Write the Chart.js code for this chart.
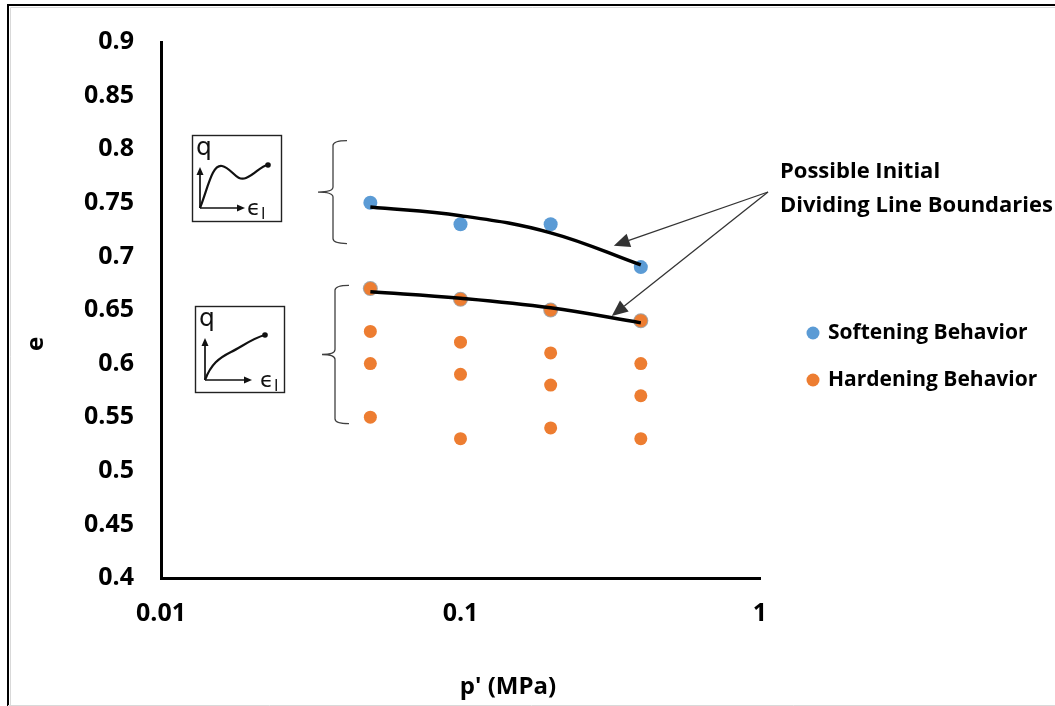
<!DOCTYPE html>
<html>
<head>
<meta charset="utf-8">
<script src="https://cdn.jsdelivr.net/npm/chart.js@4/dist/chart.umd.min.js"></script>
<style>
  html, body { margin: 0; padding: 0; background: #fff; }
  #wrap { position: relative; width: 1055px; height: 706px; }
</style>
</head>
<body>
<div id="wrap"><canvas id="c" width="1055" height="706"></canvas></div>
<script>
// Confining pressure levels (MPa)
const pressures = [0.05, 0.1, 0.2, 0.4];

// Void ratios of specimens showing softening
const softeningE = [0.75, 0.73, 0.73, 0.69];

// Specimens showing hardening
const hardeningP = [0.05, 0.05, 0.05, 0.05, 0.1, 0.1, 0.1, 0.1, 0.2, 0.2, 0.2, 0.2, 0.4, 0.4, 0.4, 0.4];
const hardeningE = [0.67, 0.63, 0.60, 0.55, 0.66, 0.62, 0.59, 0.53, 0.65, 0.61, 0.58, 0.54, 0.64, 0.60, 0.57, 0.53];

// Hardening specimens lying on the lower boundary (ringed)
const boundaryE = [0.67, 0.66, 0.65, 0.64];

// Possible dividing line boundaries
const upperBoundary = [0.746, 0.738, 0.722, 0.692];
const lowerBoundary = [0.667, 0.661, 0.652, 0.638];

// Axis ticks
const xTickValues = [0.01, 0.1, 1];
const yMin = 0.4, yMax = 0.9, yStep = 0.05;

const seriesNames = ['Softening Behavior', 'Hardening Behavior'];
const noteLines = ['Possible Initial', 'Dividing Line Boundaries'];
const xTitle = "p' (MPa)";
const yTitle = 'e';

const BLUE = '#5B9BD5';
const ORANGE = '#ED7D31';
const FONT = '"Open Sans", "Liberation Sans", sans-serif';

const pts = (xs, ys) => ys.map((y, i) => ({ x: xs[i], y }));

// Draws arrows, braces, small q–ε sketches, legend, titles and frame
const decorations = {
  id: 'decorations',
  afterDraw(chart) {
    const ctx = chart.ctx;
    const xs = chart.scales.x, ys = chart.scales.y;
    ctx.save();

    // frame
    ctx.strokeStyle = '#000';
    ctx.lineWidth = 2;
    ctx.beginPath();
    ctx.moveTo(8, 706); ctx.lineTo(8, 5); ctx.lineTo(1055, 5);
    ctx.stroke();
    ctx.strokeStyle = '#d9d9d9';
    ctx.lineWidth = 1;
    ctx.beginPath();
    ctx.moveTo(10.5, 706); ctx.lineTo(10.5, 7.5); ctx.lineTo(1055, 7.5);
    ctx.moveTo(8, 705.5); ctx.lineTo(1055, 705.5);
    ctx.stroke();

    // axis titles
    ctx.fillStyle = '#000';
    ctx.font = 'bold 24px ' + FONT;
    ctx.textAlign = 'center';
    ctx.textBaseline = 'middle';
    ctx.fillText(xTitle, 508, 687);
    ctx.save();
    ctx.translate(36, 344);
    ctx.rotate(-Math.PI / 2);
    ctx.fillText(yTitle, 0, 0);
    ctx.restore();

    // legend
    ctx.textAlign = 'left';
    ctx.font = 'bold 21px ' + FONT;
    const legendColors = [BLUE, ORANGE];
    seriesNames.forEach((name, i) => {
      const y = 333 + i * 47;
      ctx.fillStyle = legendColors[i];
      ctx.beginPath();
      ctx.arc(813, y, 6.5, 0, Math.PI * 2);
      ctx.fill();
      ctx.fillStyle = '#000';
      ctx.fillText(name, 828, y);
    });

    // note text
    ctx.font = 'bold 22px ' + FONT;
    ctx.fillText(noteLines[0], 780, 172);
    ctx.fillText(noteLines[1], 780, 206);

    // arrows from note to the boundary curves
    const tail = { x: 768, y: 192 };
    const tips = [
      { x: xs.getPixelForValue(0.325), y: ys.getPixelForValue(0.710) },
      { x: xs.getPixelForValue(0.32), y: ys.getPixelForValue(0.6445) }
    ];
    tips.forEach(t => arrow(ctx, tail.x, tail.y, t.x, t.y, 1.3, '#333', 16, 7));

    // braces
    brace(ctx, 333, ys.getPixelForValue(0.808), ys.getPixelForValue(0.712), 318);
    brace(ctx, 335, ys.getPixelForValue(0.673), ys.getPixelForValue(0.544), 322);

    // sketches
    sketch(ctx, 192, 135, 89, 86, 'soft');
    sketch(ctx, 195, 306, 89, 86, 'hard');

    ctx.restore();
  }
};

function arrow(ctx, x0, y0, x1, y1, lw, color, headLen, headHalf) {
  const a = Math.atan2(y1 - y0, x1 - x0);
  const bx = x1 - headLen * Math.cos(a), by = y1 - headLen * Math.sin(a);
  ctx.strokeStyle = color;
  ctx.fillStyle = color;
  ctx.lineWidth = lw;
  ctx.beginPath();
  ctx.moveTo(x0, y0); ctx.lineTo(bx, by);
  ctx.stroke();
  ctx.beginPath();
  ctx.moveTo(x1, y1);
  ctx.lineTo(bx + headHalf * Math.sin(a), by - headHalf * Math.cos(a));
  ctx.lineTo(bx - headHalf * Math.sin(a), by + headHalf * Math.cos(a));
  ctx.closePath();
  ctx.fill();
}

function brace(ctx, x, top, bottom, tipX) {
  const mid = (top + bottom) / 2;
  const r = 5;
  ctx.strokeStyle = '#404040';
  ctx.lineWidth = 1.3;
  ctx.beginPath();
  ctx.moveTo(x + 14, top);
  ctx.quadraticCurveTo(x, top, x, top + r);
  ctx.lineTo(x, mid - r);
  ctx.quadraticCurveTo(x, mid, tipX, mid);
  ctx.quadraticCurveTo(x, mid, x, mid + r);
  ctx.lineTo(x, bottom - r);
  ctx.quadraticCurveTo(x, bottom, x + 14, bottom);
  ctx.stroke();
}

function sketch(ctx, bx, by, w, h, kind) {
  ctx.strokeStyle = '#222';
  ctx.lineWidth = 1.4;
  ctx.strokeRect(bx + 0.5, by + 0.5, w, h);
  const ox = bx + (kind === 'soft' ? 8 : 10);
  const oy = by + (kind === 'soft' ? 73 : 74);
  // axes
  arrow(ctx, ox, oy, ox, by + 32, 1.7, '#111', 8, 3.5);
  arrow(ctx, ox, oy, ox + (kind === 'soft' ? 45 : 47), oy, 1.7, '#111', 8, 3.5);
  // response curve
  ctx.strokeStyle = '#111';
  ctx.lineWidth = 2.2;
  ctx.beginPath();
  ctx.moveTo(ox, oy);
  let ex, ey;
  if (kind === 'soft') {
    ctx.bezierCurveTo(ox + 8, oy - 20, ox + 12, oy - 44, ox + 22, oy - 42);
    ctx.bezierCurveTo(ox + 32, oy - 40, ox + 36, oy - 26, ox + 46, oy - 30);
    ctx.bezierCurveTo(ox + 56, oy - 34, ox + 60, oy - 42, ox + 68, oy - 43);
    ex = ox + 68; ey = oy - 43;
  } else {
    ctx.bezierCurveTo(ox + 6, oy - 16, ox + 14, oy - 22, ox + 26, oy - 28);
    ctx.bezierCurveTo(ox + 38, oy - 34, ox + 48, oy - 42, ox + 60, oy - 45);
    ex = ox + 60; ey = oy - 45;
  }
  ctx.stroke();
  ctx.fillStyle = '#111';
  ctx.beginPath();
  ctx.arc(ex, ey, 2.8, 0, Math.PI * 2);
  ctx.fill();
  // labels
  ctx.fillStyle = '#111';
  ctx.textAlign = 'left';
  ctx.textBaseline = 'alphabetic';
  ctx.font = '25px "DejaVu Sans", sans-serif';
  ctx.fillText('q', bx + 4, by + 20);
  ctx.font = '22px "DejaVu Sans", sans-serif';
  const lx = ox + (kind === 'soft' ? 47 : 55);
  ctx.fillText('\u03F5', lx, oy + 7);
  ctx.font = '16px "DejaVu Sans", sans-serif';
  ctx.fillText('l', lx + 14, oy + 11);
}

const tickFont = { family: FONT, size: 25, weight: 'bold' };

new Chart(document.getElementById('c'), {
  type: 'scatter',
  data: {
    datasets: [
      {
        label: 'upper boundary',
        data: pts(pressures, upperBoundary),
        showLine: true, tension: 0.4,
        borderColor: '#000', borderWidth: 3.5,
        pointRadius: 0, order: 0
      },
      {
        label: 'lower boundary',
        data: pts(pressures, lowerBoundary),
        showLine: true, tension: 0.4,
        borderColor: '#000', borderWidth: 3.5,
        pointRadius: 0, order: 0
      },
      {
        label: seriesNames[0],
        data: pts(pressures, softeningE),
        backgroundColor: BLUE, borderColor: BLUE,
        pointRadius: 7, borderWidth: 0, order: 1
      },
      {
        label: seriesNames[1],
        data: pts(hardeningP, hardeningE),
        backgroundColor: ORANGE, borderColor: ORANGE,
        pointRadius: 6.5, borderWidth: 0, order: 2
      },
      {
        label: 'boundary specimens',
        data: pts(pressures, boundaryE),
        backgroundColor: '#A5A5A5', borderColor: '#A5A5A5',
        pointRadius: 7.5, borderWidth: 0, order: 3
      }
    ]
  },
  options: {
    responsive: false,
    animation: false,
    events: [],
    layout: { padding: { left: 0, right: 295, top: 37, bottom: 0 } },
    plugins: { legend: { display: false }, tooltip: { enabled: false } },
    scales: {
      x: {
        type: 'logarithmic',
        min: 0.01, max: 1,
        afterBuildTicks: s => { s.ticks = xTickValues.map(v => ({ value: v })); },
        afterFit: s => { s.height = 128; },
        grid: { display: false, drawTicks: false },
        border: { display: true, color: '#000', width: 3 },
        ticks: {
          font: tickFont, color: '#000', padding: 21,
          maxRotation: 0, autoSkip: false,
          callback: v => String(v)
        }
      },
      y: {
        type: 'linear',
        min: yMin, max: yMax,
        afterFit: s => { s.width = 161; },
        grid: { display: false, drawTicks: false },
        border: { display: true, color: '#000', width: 3 },
        ticks: {
          stepSize: yStep, font: tickFont, color: '#000', padding: 27,
          callback: v => String(+v.toFixed(2))
        }
      }
    }
  },
  plugins: [decorations]
});
</script>
</body>
</html>
